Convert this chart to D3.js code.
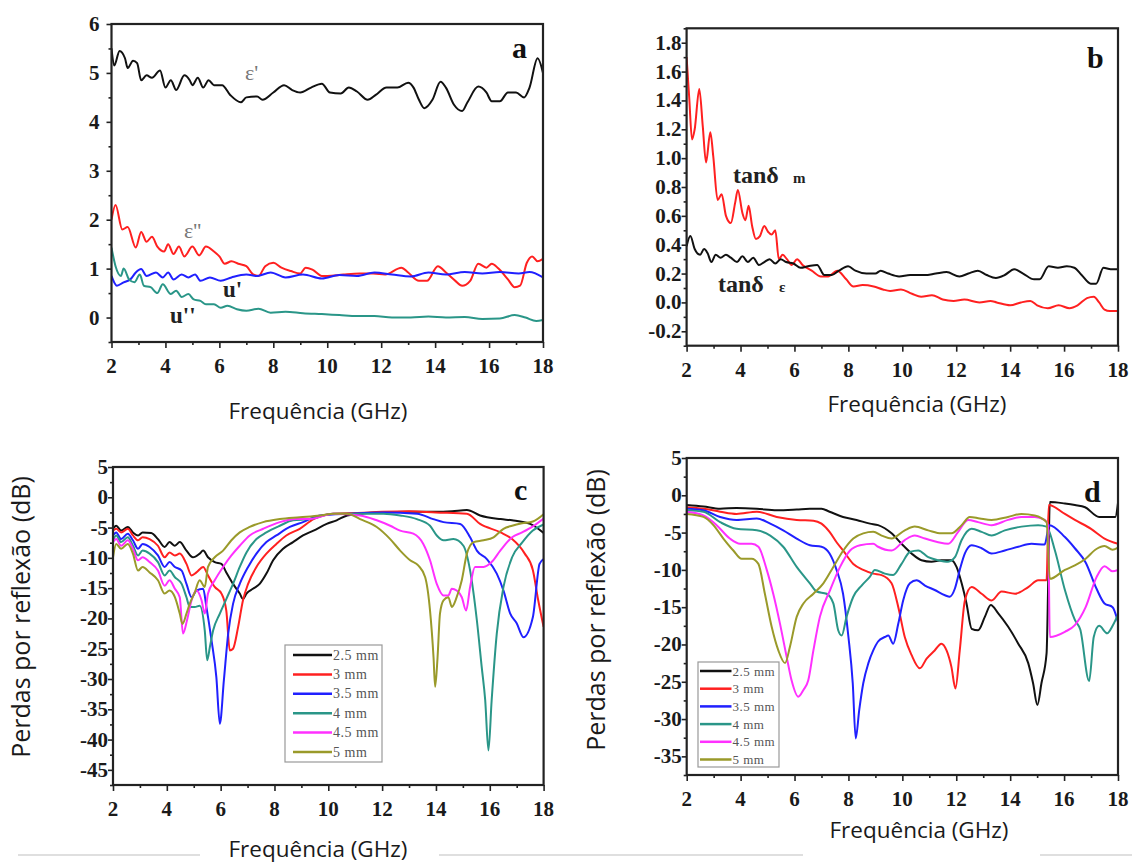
<!DOCTYPE html>
<html lang="pt">
<head>
<meta charset="UTF-8">
<title>Propriedades eletromagneticas</title>
<script src="https://cdn.jsdelivr.net/npm/d3@7"></script>
<style>
  body { margin: 0; background: #fff; }
</style>
</head>
<body>
<div id="chart"></div>
<script>

// x ticks shared by every panel
var xMajor = [2, 4, 6, 8, 10, 12, 14, 16, 18];
var xMinor = [3, 5, 7, 9, 11, 13, 15, 17];

// panel a : permittivity / permeability
var aTicks = [0, 1, 2, 3, 4, 5, 6];
var aMinor = [-0.5, 0.5, 1.5, 2.5, 3.5, 4.5, 5.5];
var epsReal = [[2.0,5.5],[2.1,5.15],[2.3,5.45],[2.5,5.3],[2.6,5.1],[2.8,5.25],[2.95,5.2],[3.1,4.85],[3.3,4.95],[3.5,4.9],[3.8,5.05],[4.0,4.7],[4.2,4.85],[4.4,4.65],[4.7,4.95],[4.9,4.85],[5.0,4.75],[5.2,4.9],[5.4,4.7],[5.6,4.85],[5.8,4.75],[6.1,4.75],[6.4,4.55],[6.8,4.4],[7.0,4.5],[7.4,4.52],[7.6,4.45],[8.0,4.6],[8.4,4.75],[8.7,4.65],[9.0,4.6],[9.4,4.7],[9.8,4.78],[10.1,4.6],[10.5,4.58],[10.8,4.7],[11.1,4.62],[11.5,4.45],[11.8,4.55],[12.2,4.7],[12.6,4.7],[13.0,4.8],[13.2,4.7],[13.4,4.45],[13.6,4.28],[13.9,4.45],[14.2,4.82],[14.4,4.7],[14.7,4.35],[15.0,4.22],[15.2,4.4],[15.6,4.72],[15.9,4.6],[16.1,4.42],[16.4,4.42],[16.7,4.6],[17.0,4.6],[17.3,4.5],[17.5,4.7],[17.8,5.3],[18.0,5.0]];
var epsImag = [[2.0,2.0],[2.15,2.3],[2.4,1.8],[2.6,1.85],[2.9,1.43],[3.1,1.75],[3.3,1.55],[3.5,1.65],[3.7,1.45],[3.95,1.35],[4.1,1.5],[4.3,1.3],[4.5,1.45],[4.7,1.25],[5.0,1.45],[5.25,1.27],[5.5,1.45],[5.8,1.35],[6.0,1.25],[6.2,1.1],[6.45,1.15],[6.7,1.1],[7.0,1.05],[7.25,0.88],[7.45,0.85],[7.7,1.05],[8.0,1.12],[8.3,1.02],[8.65,0.95],[9.0,0.9],[9.2,1.02],[9.45,0.98],[9.8,0.85],[10.0,0.85],[10.6,0.88],[11.2,0.9],[11.7,0.9],[12.15,0.88],[12.75,1.02],[13.0,0.92],[13.4,0.75],[13.7,0.75],[14.1,1.05],[14.4,0.92],[14.75,0.75],[15.0,0.65],[15.3,0.75],[15.6,1.1],[15.9,1.02],[16.1,1.1],[16.35,1.0],[16.7,0.78],[16.95,0.62],[17.15,0.65],[17.4,1.12],[17.6,1.25],[17.8,1.15],[18.0,1.2]];
var muReal = [[2.0,0.85],[2.2,0.65],[2.45,0.72],[2.7,0.78],[2.9,0.92],[3.1,0.99],[3.3,0.85],[3.65,0.92],[3.9,0.82],[4.1,0.92],[4.3,0.78],[4.6,0.88],[4.85,0.82],[5.1,0.88],[5.3,0.75],[5.65,0.82],[6.05,0.75],[6.45,0.82],[7.0,0.88],[7.4,0.85],[7.9,0.92],[8.45,0.82],[9.1,0.88],[9.8,0.8],[10.45,0.87],[11.1,0.85],[11.75,0.92],[12.4,0.88],[13.1,0.84],[13.75,0.92],[14.4,0.88],[15.1,0.93],[15.75,0.9],[16.4,0.93],[17.1,0.9],[17.5,0.93],[18.0,0.82]];
var muImag = [[2.0,1.43],[2.15,1.05],[2.35,0.85],[2.45,1.0],[2.65,0.78],[2.85,0.72],[3.05,0.88],[3.2,0.65],[3.45,0.62],[3.7,0.5],[3.9,0.68],[4.2,0.48],[4.4,0.55],[4.6,0.42],[4.85,0.48],[5.05,0.37],[5.3,0.34],[5.5,0.27],[5.8,0.27],[6.05,0.2],[6.3,0.24],[6.65,0.17],[7.0,0.14],[7.45,0.18],[7.9,0.1],[8.45,0.12],[9.1,0.09],[9.8,0.07],[10.45,0.05],[11.1,0.03],[11.75,0.03],[12.4,0.0],[13.1,0.0],[13.75,0.02],[14.4,0.0],[15.1,0.01],[15.75,-0.03],[16.4,-0.02],[16.95,0.05],[17.35,0.0],[17.75,-0.07],[18.0,-0.05]];

// panel b : loss tangents
var bTicks = [-0.2, 0, 0.2, 0.4, 0.6, 0.8, 1.0, 1.2, 1.4, 1.6, 1.8];
var bMinor = [-0.3, -0.1, 0.1, 0.3, 0.5, 0.7, 0.9, 1.1, 1.3, 1.5, 1.7, 1.9];
var tanM = [[2.0,1.7],[2.1,1.41],[2.2,1.13],[2.3,1.2],[2.47,1.48],[2.6,1.22],[2.72,0.97],[2.88,1.18],[2.99,1.01],[3.15,0.71],[3.3,0.75],[3.46,0.6],[3.64,0.55],[3.8,0.69],[3.9,0.78],[4.07,0.62],[4.18,0.57],[4.3,0.67],[4.43,0.53],[4.57,0.44],[4.72,0.46],[4.88,0.53],[5.02,0.49],[5.15,0.47],[5.29,0.5],[5.42,0.3],[5.56,0.33],[5.72,0.3],[5.9,0.26],[6.1,0.3],[6.3,0.26],[6.64,0.22],[6.98,0.18],[7.25,0.18],[7.59,0.22],[7.92,0.16],[8.19,0.11],[8.53,0.12],[8.94,0.11],[9.28,0.09],[9.55,0.08],[9.95,0.09],[10.36,0.06],[10.7,0.04],[11.1,0.05],[11.5,0.02],[11.9,0.01],[12.3,0.02],[12.86,0.0],[13.27,0.01],[13.5,0.0],[14.0,-0.02],[14.4,0.0],[14.75,0.01],[15.0,-0.02],[15.4,-0.04],[15.8,-0.02],[16.2,-0.04],[16.5,-0.02],[16.85,0.03],[17.1,0.04],[17.3,0.0],[17.5,-0.05],[17.7,-0.06],[18.0,-0.06]];
var tanE = [[2.0,0.39],[2.14,0.46],[2.3,0.37],[2.5,0.33],[2.65,0.37],[2.78,0.34],[2.92,0.28],[3.08,0.33],[3.26,0.31],[3.46,0.33],[3.64,0.31],[3.87,0.28],[4.07,0.32],[4.27,0.28],[4.47,0.31],[4.68,0.26],[4.88,0.28],[5.08,0.3],[5.29,0.27],[5.49,0.3],[5.69,0.28],[5.96,0.27],[6.23,0.24],[6.5,0.25],[6.84,0.26],[7.11,0.19],[7.38,0.19],[7.65,0.22],[7.99,0.25],[8.26,0.22],[8.67,0.2],[9.0,0.2],[9.2,0.22],[9.48,0.2],[9.88,0.18],[10.29,0.19],[10.83,0.19],[11.24,0.2],[11.64,0.21],[12.12,0.18],[12.45,0.2],[12.8,0.22],[13.13,0.19],[13.47,0.17],[13.8,0.19],[14.15,0.23],[14.48,0.2],[14.89,0.16],[15.09,0.16],[15.43,0.25],[15.77,0.24],[16.1,0.25],[16.38,0.24],[16.65,0.19],[16.99,0.13],[17.19,0.13],[17.46,0.24],[17.73,0.23],[18.0,0.23]];

// panels c and d : reflection loss per thickness
var thickness = ["2.5 mm", "3 mm", "3.5 mm", "4 mm", "4.5 mm", "5 mm"];
var cTicks = [5, 0, -5, -10, -15, -20, -25, -30, -35, -40, -45];
var cMinor = [2.5, -2.5, -7.5, -12.5, -17.5, -22.5, -27.5, -32.5, -37.5, -42.5, -47.5];
var c25 = [[2,-5.2],[2.12,-4.7],[2.3,-5.5],[2.55,-4.9],[2.74,-5.8],[2.93,-6.3],[3.1,-5.8],[3.42,-5.9],[3.67,-6.9],[3.92,-8.2],[4.1,-7.4],[4.3,-8.0],[4.48,-7.4],[4.73,-8.8],[4.97,-9.9],[5.22,-9.3],[5.35,-8.8],[5.53,-9.9],[5.78,-10.7],[6.03,-11.0],[6.21,-12.4],[6.46,-14.3],[6.71,-15.9],[6.83,-16.8],[6.96,-15.9],[7.2,-15.1],[7.45,-14.3],[7.7,-12.6],[7.95,-10.4],[8.32,-8.5],[8.69,-7.4],[9.06,-6.3],[9.45,-5.5],[9.94,-4.4],[10.31,-3.8],[10.7,-3.0],[11.2,-2.7],[12.0,-2.5],[13.0,-2.4],[14.0,-2.4],[14.6,-2.3],[15.15,-2.1],[15.64,-3.0],[16.4,-3.6],[16.83,-3.8],[17.5,-4.4],[18,-5.9]];
var c3 = [[2,-5.5],[2.12,-5.2],[2.3,-5.8],[2.55,-5.2],[2.74,-6.3],[2.93,-7.1],[3.1,-6.6],[3.36,-6.9],[3.67,-8.0],[3.92,-9.9],[4.1,-9.1],[4.3,-9.6],[4.48,-9.3],[4.73,-11.0],[4.92,-12.9],[5.1,-12.4],[5.35,-11.5],[5.53,-12.9],[5.78,-14.8],[6.03,-15.9],[6.21,-18.7],[6.34,-25.3],[6.46,-25.0],[6.65,-21.4],[6.83,-17.0],[7.02,-14.3],[7.33,-11.5],[7.7,-9.3],[8.07,-7.7],[8.44,-6.3],[8.94,-5.2],[9.45,-3.6],[10.19,-2.7],[11.0,-2.6],[12.0,-2.4],[13.0,-2.3],[14.0,-2.5],[15.15,-2.7],[15.64,-4.4],[16.4,-5.8],[16.83,-6.9],[17.3,-9.3],[17.6,-12],[17.8,-17],[18,-21.4]];
var c35 = [[2,-6.3],[2.12,-5.8],[2.3,-6.9],[2.55,-6.0],[2.74,-7.1],[2.93,-8.5],[3.1,-7.7],[3.36,-8.2],[3.67,-9.6],[3.92,-11.5],[4.1,-10.7],[4.3,-11.5],[4.55,-12.1],[4.73,-14.3],[4.92,-16.5],[5.1,-15.4],[5.35,-15.1],[5.47,-18.1],[5.66,-23.6],[5.84,-29.7],[5.97,-37.4],[6.12,-30.2],[6.28,-22.5],[6.46,-17.6],[6.71,-14.3],[7.02,-11.5],[7.33,-9.3],[7.7,-7.4],[8.07,-6.3],[8.57,-4.9],[9.06,-4.1],[9.69,-3.0],[10.8,-2.7],[12.05,-2.5],[13.3,-2.7],[13.9,-3.6],[14.28,-4.1],[14.9,-4.4],[15.27,-6.6],[15.52,-8.8],[15.89,-10.2],[16.26,-12.6],[16.51,-15.4],[16.76,-19.2],[17.0,-20.8],[17.25,-23.1],[17.6,-19.8],[17.85,-11],[18,-10.2]];
var c4 = [[2,-7.1],[2.12,-6.3],[2.3,-7.4],[2.55,-6.6],[2.74,-8.0],[2.93,-9.6],[3.1,-8.8],[3.36,-9.3],[3.67,-10.7],[3.92,-12.9],[4.1,-12.1],[4.3,-13.2],[4.55,-14.3],[4.73,-16.5],[4.85,-18.1],[5.04,-18.1],[5.22,-17.9],[5.41,-22.0],[5.5,-26.9],[5.6,-24.7],[5.72,-22.0],[5.97,-19.2],[6.21,-16.8],[6.46,-14.3],[6.71,-11.5],[6.96,-9.1],[7.33,-6.9],[7.7,-5.8],[8.2,-4.7],[8.69,-3.8],[9.31,-3.6],[10.19,-2.7],[12.05,-2.7],[12.67,-3.0],[13.29,-3.6],[13.78,-4.7],[14.03,-6.3],[14.28,-7.1],[14.65,-6.9],[15.02,-8.0],[15.27,-12.1],[15.52,-20.3],[15.7,-28.0],[15.83,-33.5],[15.95,-41.8],[16.07,-33.5],[16.26,-22.5],[16.51,-14.8],[16.83,-9.9],[17.2,-7.5],[17.6,-5.5],[18,-4.5]];
var c45 = [[2,-7.4],[2.12,-6.9],[2.3,-8.0],[2.55,-7.1],[2.74,-8.5],[2.93,-10.4],[3.1,-9.9],[3.36,-10.7],[3.67,-12.1],[3.92,-14.6],[4.1,-13.7],[4.3,-15.1],[4.48,-16.5],[4.6,-22.5],[4.75,-20.3],[4.92,-17.0],[5.1,-15.4],[5.29,-17.0],[5.41,-19.2],[5.53,-15.9],[5.78,-13.7],[6.09,-11.5],[6.4,-9.6],[6.71,-8.0],[7.08,-6.3],[7.58,-5.2],[8.2,-4.1],[8.82,-3.6],[9.31,-3.6],[10.19,-2.7],[11.18,-3.0],[11.8,-3.8],[12.3,-4.7],[12.67,-5.5],[13.16,-6.0],[13.53,-7.7],[13.78,-10.4],[14.03,-14.3],[14.28,-16.2],[14.46,-16.2],[14.59,-15.1],[14.77,-15.4],[14.96,-16.5],[15.12,-18.7],[15.27,-14.8],[15.45,-11.5],[15.77,-11.5],[16.07,-10.7],[16.39,-8.8],[16.83,-6.6],[17.2,-5.8],[17.6,-4.8],[18,-3.5]];
var c5 = [[2,-9.9],[2.12,-7.7],[2.3,-8.5],[2.55,-7.7],[2.74,-9.3],[2.93,-12.1],[3.1,-11.5],[3.36,-12.4],[3.67,-13.7],[3.92,-15.9],[4.1,-15.4],[4.3,-16.5],[4.48,-19.2],[4.58,-20.9],[4.73,-19.2],[4.85,-17.6],[5.04,-15.7],[5.22,-13.7],[5.41,-14.8],[5.53,-11.5],[5.78,-9.9],[6.09,-8.8],[6.4,-7.1],[6.71,-5.8],[7.08,-4.9],[7.58,-4.1],[8.2,-3.6],[8.94,-3.3],[9.69,-3.0],[10.19,-2.7],[10.7,-2.7],[11.18,-3.6],[11.8,-4.9],[12.3,-6.9],[12.67,-8.8],[13.04,-10.4],[13.35,-11.3],[13.6,-13.2],[13.78,-18.7],[13.91,-26.4],[13.97,-31.3],[14.06,-26.4],[14.15,-19.2],[14.28,-17.0],[14.46,-16.5],[14.59,-18.1],[14.77,-16.5],[14.96,-13.7],[15.15,-9.3],[15.4,-7.4],[15.77,-7.1],[16.14,-6.6],[16.51,-5.2],[16.83,-4.7],[17.2,-4.3],[17.6,-4.0],[18,-2.8]];

var dTicks = [5, 0, -5, -10, -15, -20, -25, -30, -35];
var dMinor = [2.5, -2.5, -7.5, -12.5, -17.5, -22.5, -27.5, -32.5, -37.5];
var d25 = [[2,-1.3],[2.62,-1.5],[3.24,-1.8],[3.85,-1.7],[4.6,-1.8],[5.34,-2.0],[6.08,-1.9],[6.57,-1.8],[7.0,-1.8],[7.3,-2.2],[7.8,-2.9],[8.3,-3.3],[8.8,-3.8],[9.1,-4.0],[9.6,-5.1],[9.97,-6.5],[10.34,-7.8],[10.71,-8.7],[11.08,-8.9],[11.45,-8.7],[11.82,-8.7],[12.01,-9.6],[12.2,-11.8],[12.38,-14.5],[12.57,-17.9],[12.81,-18.1],[13.06,-16.3],[13.28,-14.7],[13.55,-15.8],[13.92,-17.6],[14.3,-19.9],[14.67,-22.5],[14.85,-25.2],[15.01,-28.1],[15.16,-25.2],[15.35,-21.2],[15.41,-11.8],[15.47,-0.9],[16.03,-1.1],[16.4,-1.3],[16.78,-1.6],[17.3,-2.9],[17.9,-2.9],[18,-1.0]];
var d3v = [[2,-1.6],[2.62,-1.8],[3.24,-2.2],[3.85,-2.5],[4.6,-2.2],[5.34,-2.9],[6.08,-3.3],[6.7,-3.4],[7.0,-3.8],[7.3,-4.9],[7.56,-6.3],[7.8,-7.4],[8.18,-9.2],[8.55,-10.0],[8.92,-10.5],[9.23,-10.7],[9.6,-11.8],[9.85,-15.0],[10.09,-19.0],[10.34,-21.4],[10.65,-23.2],[10.9,-21.9],[11.2,-20.8],[11.45,-19.9],[11.64,-20.8],[11.82,-23.0],[11.97,-25.9],[12.13,-20.8],[12.32,-14.1],[12.57,-12.3],[12.94,-13.2],[13.31,-14.1],[13.68,-12.9],[14.18,-13.2],[14.67,-12.3],[15.04,-11.4],[15.35,-11.4],[15.43,-1.3],[16.03,-2.5],[16.4,-3.3],[17.0,-4.5],[17.5,-5.8],[18,-6.5]];
var d35 = [[2,-1.8],[2.62,-2.0],[3.24,-2.9],[3.85,-3.3],[4.6,-3.1],[5.1,-3.8],[5.58,-4.7],[6.08,-5.8],[6.57,-6.7],[7.0,-6.9],[7.3,-7.8],[7.56,-10.0],[7.8,-13.2],[8.0,-19.0],[8.16,-25.2],[8.27,-32.6],[8.4,-28.8],[8.55,-25.2],[8.74,-22.5],[8.92,-20.8],[9.1,-19.6],[9.35,-19.0],[9.48,-18.8],[9.66,-19.9],[9.85,-17.2],[10.03,-14.1],[10.28,-11.8],[10.53,-11.4],[10.84,-12.1],[11.2,-12.7],[11.58,-13.4],[11.76,-13.6],[11.95,-12.5],[12.13,-10.0],[12.32,-7.8],[12.57,-6.7],[12.94,-7.1],[13.31,-7.8],[13.8,-7.4],[14.3,-6.9],[14.79,-6.5],[15.28,-6.6],[15.45,-4.0],[16.03,-5.6],[16.4,-7.1],[16.8,-9],[17.2,-12.5],[17.5,-14.5],[17.8,-15],[18,-17]];
var d4 = [[2,-2.0],[2.62,-2.2],[3.24,-3.6],[3.85,-4.5],[4.6,-4.7],[5.1,-5.4],[5.58,-6.9],[6.08,-9.6],[6.57,-11.8],[6.82,-12.9],[7.19,-13.2],[7.44,-14.5],[7.62,-18.1],[7.75,-18.8],[7.93,-16.3],[8.18,-13.6],[8.49,-12.1],[8.8,-10.9],[8.98,-10.0],[9.35,-10.5],[9.66,-10.7],[9.97,-9.2],[10.28,-7.6],[10.59,-7.4],[10.96,-8.3],[11.33,-8.7],[11.7,-8.9],[11.95,-8.3],[12.2,-6.0],[12.57,-4.5],[12.94,-4.9],[13.31,-5.4],[13.8,-4.7],[14.42,-4.2],[15.04,-4.0],[15.35,-4.2],[15.66,-7.4],[16.03,-12.7],[16.4,-16.7],[16.6,-18],[16.93,-24.9],[17.1,-19],[17.3,-17.5],[17.6,-18.5],[17.8,-17.5],[18,-16]];
var d45 = [[2,-2.2],[2.62,-2.7],[3.11,-4.0],[3.6,-5.8],[3.98,-6.5],[4.41,-6.5],[4.66,-6.9],[4.97,-10.0],[5.21,-13.2],[5.46,-17.2],[5.71,-21.7],[5.89,-24.8],[6.14,-27.0],[6.33,-26.1],[6.51,-24.8],[6.7,-20.8],[6.94,-16.3],[7.32,-12.7],[7.69,-9.6],[8.06,-7.4],[8.43,-6.7],[8.92,-6.5],[9.1,-6.9],[9.6,-7.4],[10.09,-6.0],[10.46,-5.4],[10.84,-5.8],[11.33,-6.3],[11.7,-6.5],[12.07,-4.9],[12.44,-3.3],[12.81,-3.6],[13.31,-4.0],[13.92,-3.3],[14.42,-2.9],[14.91,-2.9],[15.28,-3.3],[15.41,-4.2],[15.47,-19.0],[16.03,-18.3],[16.4,-17.4],[16.8,-15],[17.2,-11],[17.5,-9.5],[17.8,-10.2],[18,-10]];
var d5 = [[2,-2.5],[2.62,-2.9],[2.99,-4.0],[3.36,-5.8],[3.73,-7.4],[4.04,-8.5],[4.41,-8.5],[4.66,-9.2],[4.9,-13.2],[5.15,-17.6],[5.4,-20.8],[5.65,-22.5],[5.83,-20.3],[6.08,-16.3],[6.33,-14.5],[6.7,-13.2],[7.07,-11.8],[7.44,-9.6],[7.81,-7.4],[8.18,-5.8],[8.55,-5.1],[8.92,-4.9],[9.23,-5.4],[9.6,-5.8],[10.09,-4.7],[10.46,-4.2],[10.96,-4.7],[11.45,-5.1],[11.82,-5.1],[12.2,-4.0],[12.5,-2.9],[12.87,-3.1],[13.31,-3.3],[13.92,-2.9],[14.42,-2.5],[14.91,-2.7],[15.35,-3.6],[15.47,-11.2],[16.03,-10.0],[16.4,-9.4],[16.8,-8.5],[17.2,-7.2],[17.5,-6.8],[17.8,-7.3],[18,-7.0]];

var thickColors = ["#111111", "#ff2020", "#2020ff", "#2a9688", "#ff30ff", "#9a9a2a"];

var width = 1132, height = 863;
var serif = "Liberation Serif";
var sans = "Open Sans";

var svg = d3.select("#chart").append("svg")
    .attr("width", width)
    .attr("height", height)
    .style("background", "#fff");

// light separator lines under the lower panels
[[18, 200], [439, 803], [1040, 1132]].forEach(function(s) {
    svg.append("line").attr("x1", s[0]).attr("x2", s[1])
        .attr("y1", 855).attr("y2", 855)
        .attr("stroke", "#d4d4d4").attr("stroke-width", 1.5);
});

function styleAxis(sel) {
    sel.select(".domain").remove();
    sel.selectAll("text").remove();
    sel.selectAll(".tick line").attr("stroke", "#222").attr("stroke-width", 1.6);
}

function tickText(g, cls, vals, fmt) {
    return g.selectAll("text." + cls).data(vals).enter().append("text")
        .attr("class", cls)
        .text(fmt)
        .attr("font-family", serif)
        .attr("font-weight", "bold")
        .attr("font-size", 21)
        .attr("fill", "#1a1a1a");
}

function drawPanel(p) {
    var x = d3.scaleLinear().domain([2, 18]).range([p.left, p.right]);
    var y = d3.scaleLinear().domain(p.yDomain).range([p.bottom, p.top]);
    var g = svg.append("g");

    g.append("g").attr("transform", "translate(0," + p.bottom + ")")
        .call(d3.axisBottom(x).tickValues(xMinor).tickSize(3).tickSizeOuter(0))
        .call(styleAxis);
    g.append("g").attr("transform", "translate(0," + p.bottom + ")")
        .call(d3.axisBottom(x).tickValues(xMajor).tickSize(6).tickSizeOuter(0))
        .call(styleAxis);

    g.append("g").attr("transform", "translate(" + p.left + ",0)")
        .call(d3.axisLeft(y).tickValues(p.yMinor.filter(function(v) {
            return v >= p.yDomain[0] && v <= p.yDomain[1];
        })).tickSize(3).tickSizeOuter(0))
        .call(styleAxis);
    g.append("g").attr("transform", "translate(" + p.left + ",0)")
        .call(d3.axisLeft(y).tickValues(p.yTicks).tickSize(5).tickSizeOuter(0))
        .call(styleAxis);

    // tick labels
    tickText(g, "xt", xMajor, String)
        .attr("x", function(d) { return x(d); })
        .attr("y", p.bottom + 31)
        .attr("text-anchor", "middle");
    tickText(g, "yt", p.yTicks, p.yFormat)
        .attr("x", p.left - p.yOff)
        .attr("y", function(d) { return y(d) + 7; })
        .attr("text-anchor", "end");

    var clipId = "clip" + p.name;
    g.append("clipPath").attr("id", clipId).append("rect")
        .attr("x", p.left).attr("y", p.top)
        .attr("width", p.right - p.left).attr("height", p.bottom - p.top);

    var line = d3.line()
        .x(function(d) { return x(d[0]); })
        .y(function(d) { return y(d[1]); })
        .curve(d3.curveMonotoneX);

    g.append("g").attr("clip-path", "url(#" + clipId + ")")
        .selectAll("path").data(p.series).enter().append("path")
        .attr("d", function(s) { return line(s.data); })
        .attr("fill", "none")
        .attr("stroke", function(s) { return s.color; })
        .attr("stroke-width", 2)
        .attr("stroke-linejoin", "round");

    g.append("rect")
        .attr("x", p.left).attr("y", p.top)
        .attr("width", p.right - p.left).attr("height", p.bottom - p.top)
        .attr("fill", "none").attr("stroke", "#222").attr("stroke-width", 2.2);

    g.append("text").text(p.name)
        .attr("x", p.letter[0]).attr("y", p.letter[1])
        .attr("font-family", serif).attr("font-weight", "bold")
        .attr("font-size", 30).attr("fill", "#111");

    g.append("text").text("Frequência (GHz)")
        .attr("x", p.xLabel[0]).attr("y", p.xLabel[1])
        .attr("text-anchor", "middle")
        .attr("font-family", sans).attr("font-size", 22.5).attr("fill", "#1a1a1a");

    if (p.yLabel) {
        g.append("text").text("Perdas por reflexão (dB)")
            .attr("transform", "translate(" + p.yLabel[0] + "," + p.yLabel[1] + ") rotate(-90)")
            .attr("text-anchor", "middle")
            .attr("font-family", sans).attr("font-size", 25).attr("fill", "#1a1a1a");
    }
    return g;
}

function intFmt(d) { return String(d); }
function decFmt(d) { return d.toFixed(1); }

function note(g, txt, x, y, size, bold, color) {
    g.append("text").text(txt).attr("x", x).attr("y", y)
        .attr("font-family", serif).attr("font-size", size)
        .attr("font-weight", bold ? "bold" : "normal").attr("fill", color);
}

// panel a
var ga = drawPanel({
    name: "a", left: 111.5, right: 543, top: 24, bottom: 342,
    yDomain: [-0.5, 6], yTicks: aTicks, yMinor: aMinor, yFormat: intFmt,
    yOff: 12, letter: [512, 58], xLabel: [318, 419],
    series: [
        {data: epsReal, color: "#111111"},
        {data: epsImag, color: "#ff2020"},
        {data: muReal, color: "#2020ff"},
        {data: muImag, color: "#2a9688"}
    ]
});
note(ga, "ε'", 245, 80, 22, false, "#777");
note(ga, "ε''", 184, 238, 22, false, "#777");
note(ga, "u'", 223, 297, 23, true, "#222");
note(ga, "u''", 170, 323, 23, true, "#222");

// panel b
var gb = drawPanel({
    name: "b", left: 686.6, right: 1118, top: 28.3, bottom: 345.7,
    yDomain: [-0.3, 1.9], yTicks: bTicks, yMinor: bMinor, yFormat: decFmt,
    yOff: 5, letter: [1087, 68], xLabel: [917, 412],
    series: [
        {data: tanM, color: "#ff2020"},
        {data: tanE, color: "#111111"}
    ]
});
note(gb, "tanδ", 733, 183, 24, true, "#222");
note(gb, "m", 793, 183, 15, true, "#222");
note(gb, "tanδ", 718, 292, 24, true, "#222");
note(gb, "ε", 779, 292, 15, true, "#222");

// panels c and d
function legend(g, box, rows) {
    g.append("rect").attr("x", box[0]).attr("y", box[1])
        .attr("width", box[2]).attr("height", box[3])
        .attr("fill", "#fff").attr("stroke", "#999").attr("stroke-width", 1.2);
    thickness.forEach(function(lbl, i) {
        var yy = rows.y0 + i * rows.dy;
        g.append("line").attr("x1", rows.x0).attr("x2", rows.x1)
            .attr("y1", yy).attr("y2", yy)
            .attr("stroke", thickColors[i]).attr("stroke-width", 2.5);
        g.append("text").text(lbl).attr("x", rows.x1 + 1).attr("y", yy + 4.5)
            .attr("font-family", serif).attr("font-size", rows.fs)
            .attr("letter-spacing", 0.5).attr("fill", "#555");
    });
}

var gc = drawPanel({
    name: "c", left: 113, right: 543.6, top: 467, bottom: 785,
    yDomain: [-47.5, 5], yTicks: cTicks, yMinor: cMinor, yFormat: intFmt,
    yOff: 5, letter: [514, 500], xLabel: [318, 857], yLabel: [30, 617],
    series: [c25, c3, c35, c4, c45, c5].map(function(s, i) { return {data: s, color: thickColors[i]}; })
});
legend(gc, [285, 645, 97, 117], {x0: 293, x1: 332, y0: 655, dy: 19.4, fs: 14});

var gd = drawPanel({
    name: "d", left: 686.7, right: 1118, top: 458, bottom: 775,
    yDomain: [-37.5, 5], yTicks: dTicks, yMinor: dMinor, yFormat: intFmt,
    yOff: 5, letter: [1084, 502], xLabel: [919, 838], yLabel: [605, 610],
    series: [d25, d3v, d35, d4, d45, d5].map(function(s, i) { return {data: s, color: thickColors[i]}; })
});
legend(gd, [698, 662, 81, 105], {x0: 700, x1: 731.5, y0: 671, dy: 17.7, fs: 13});

</script>
</body>
</html>
